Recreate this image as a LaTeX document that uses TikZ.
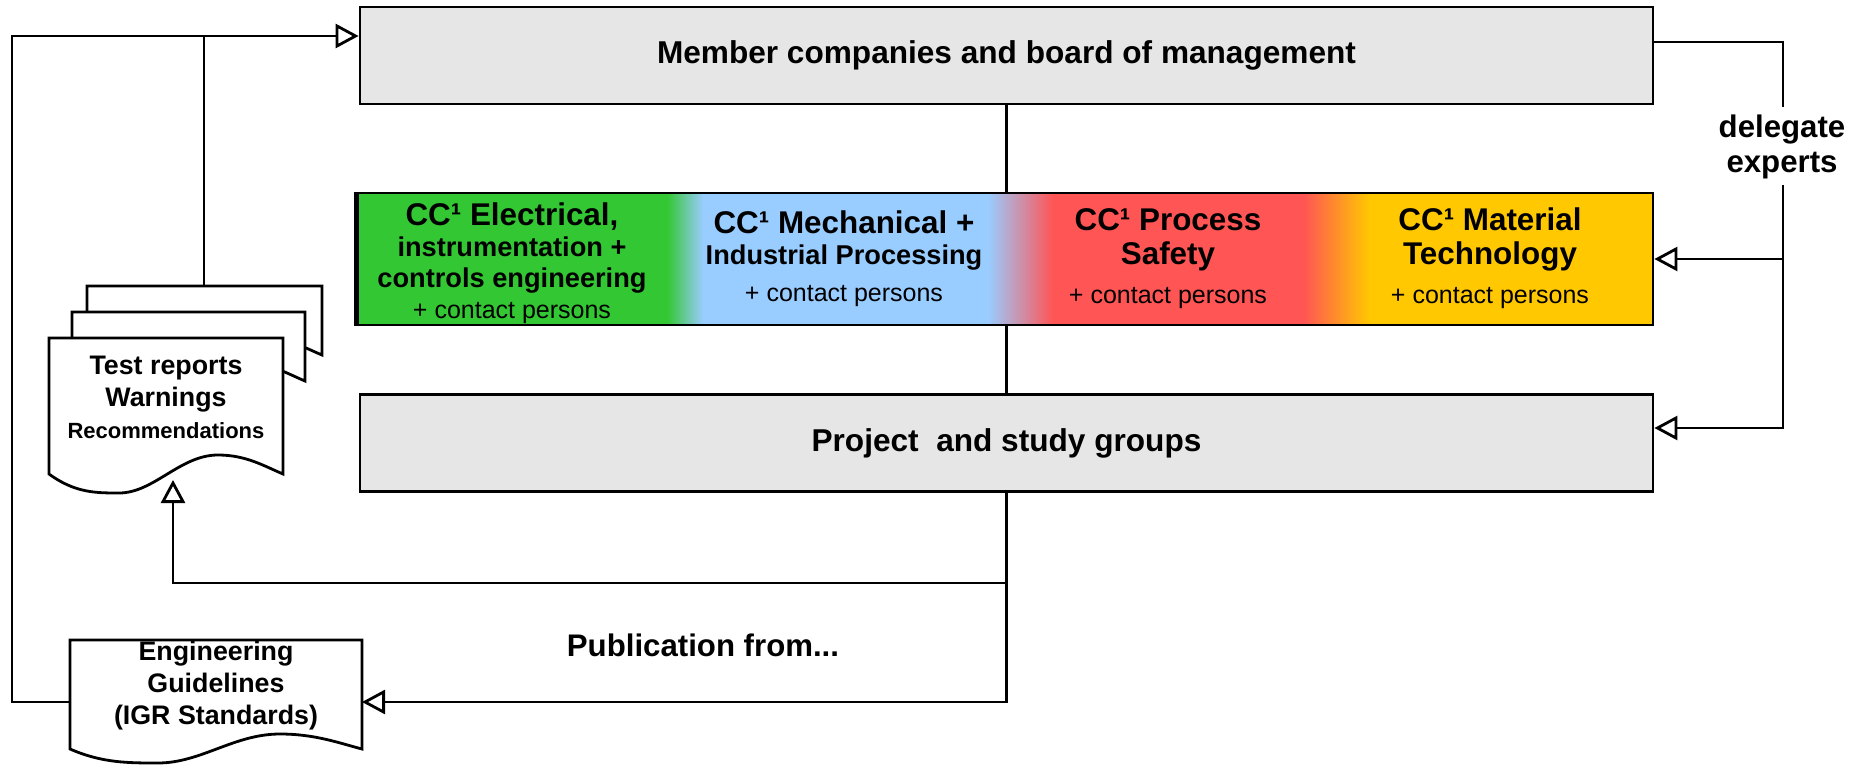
\documentclass[tikz,border=0pt]{standalone}
\usepackage{fontspec}
\setmainfont{Liberation Sans}
\usetikzlibrary{arrows.meta}
\definecolor{boxgrey}{HTML}{E6E6E6}
\definecolor{ccgreen}{HTML}{33C733}
\definecolor{ccblue}{HTML}{99CCFF}
\definecolor{ccred}{HTML}{FF5555}
\definecolor{ccyellow}{HTML}{FFC800}
\newcommand\ccmid{\fontsize{13.6}{15.5}\selectfont}
\newcommand\ccsub{\fontsize{12.5}{15.5}\selectfont\mdseries}
\begin{document}
\begin{tikzpicture}[x=0.5pt,y=-0.5pt,line width=1.4pt]
    \tikzstyle{greybox}=[draw, fill=boxgrey, minimum width=646.5pt, minimum height=48.5pt, font=\fontsize{15.8}{19}\selectfont\bfseries]
    \tikzstyle{cctext}=[align=center, font=\fontsize{15.7}{15.5}\selectfont\bfseries]
    \tikzstyle{doctext}=[align=center, font=\fontsize{13.4}{16}\selectfont\bfseries]
    \tikzstyle{label}=[align=center, font=\fontsize{15.6}{17.5}\selectfont\bfseries]
    \tikzstyle{arr}=[-{Triangle[open,length=11.5pt,width=12pt]}]
    \useasboundingbox (0,0) rectangle (1853,765);

    \node[greybox] (mcb) at (1006.5,55.5) {Member companies and board of management};
    \node[greybox] (psg) at (1006.5,443) {Project\ \ and study groups};

    \fill[ccgreen] (358,193) rectangle (667,325);
    \shade[left color=ccgreen,right color=ccblue] (667,193) rectangle (703,325);
    \fill[ccblue] (703,193) rectangle (988,325);
    \shade[left color=ccblue,right color=ccred] (988,193) rectangle (1053,325);
    \fill[ccred] (1053,193) rectangle (1303,325);
    \shade[left color=ccred,right color=ccyellow] (1303,193) rectangle (1370,325);
    \fill[ccyellow] (1370,193) rectangle (1653,325);
    \node[draw, minimum width=647.5pt, minimum height=66pt, inner sep=0pt] (cc) at (1005.5,259) {};
    \draw[line width=2.6pt] (cc.north west) -- (cc.south west);

    \node[cctext] (ccel) at (512,263) {CC¹ Electrical,\\ \ccmid instrumentation +\\ \ccmid controls engineering\\ \ccsub + contact persons};
    \node[cctext] (ccmech) at (844,259) {CC¹ Mechanical +\\ \ccmid Industrial Processing\\[3pt] \ccsub + contact persons};
    \node[cctext] (ccproc) at (1168,258.5) {CC¹ Process\\[1.5pt] Safety\\[4pt] \ccsub + contact persons};
    \node[cctext] (ccmat) at (1490,258.5) {CC¹ Material\\[1.5pt] Technology\\[4pt] \ccsub + contact persons};

    \draw[fill=white] (87,355) -- (87,286) -- (322,286) -- (322,355) .. controls (303,347) and (284,336) .. (256,336) .. controls (219,336) and (193,374) .. (158,374) .. controls (134,374) and (113,374) .. cycle;
    \draw[fill=white] (72,381) -- (72,312) -- (305,312) -- (305,381) .. controls (286,373) and (268,362) .. (240,362) .. controls (203,362) and (177,400) .. (142,400) .. controls (119,400) and (98,400) .. cycle;
    \draw[fill=white] (49,474) -- (49,338) -- (283,338) -- (283,474) .. controls (264,466) and (246,455) .. (218,455) .. controls (180,455) and (154,493) .. (119,493) .. controls (96,493) and (75,493) .. cycle;
    \node[doctext] (tr) at (166,397) {Test reports\\ Warnings\\ \fontsize{11}{16}\selectfont Recommendations};

    \draw[fill=white] (70,749) -- (70,640) -- (362,640) -- (362,749) .. controls (339,743) and (315,734) .. (280,734) .. controls (234,734) and (201,763) .. (158,763) .. controls (128,763) and (102,763) .. cycle;
    \node[doctext] (eng) at (216,686) {Engineering\\ Guidelines\\ (IGR Standards)};

    \node[label] (pub) at (703,645) {Publication from...};
    \node[label] (dlg) at (1782,147) {delegate\\ experts};

    \coordinate (mcbin) at (mcb.west |- 0,36);
    \coordinate (stacktop) at (204,286);
    \coordinate (trb) at (173,480);
    \coordinate (engl) at (70,702);
    \coordinate (engr) at (362,702);
    \coordinate (dl1) at (1783,107);
    \coordinate (dl2) at (1783,185);

    \draw (mcb.south) -- (mcb.south |- cc.north);
    \draw (mcb.south |- cc.south) -- (psg.north);
    \draw[arr] (psg.south) |- (engr);
    \draw[arr] (psg.south |- 0,583) -| (trb);
    \draw[arr] (engl) -| (12,36) -- (mcbin);
    \draw (stacktop) -- (stacktop |- mcbin);
    \draw (mcb.east |- 0,42) -| (dl1);
    \draw[arr] (dl2) |- (psg.east |- 0,428);
    \draw[arr] (dl2 |- cc.east) -- (cc.east);
\end{tikzpicture}
\end{document}
